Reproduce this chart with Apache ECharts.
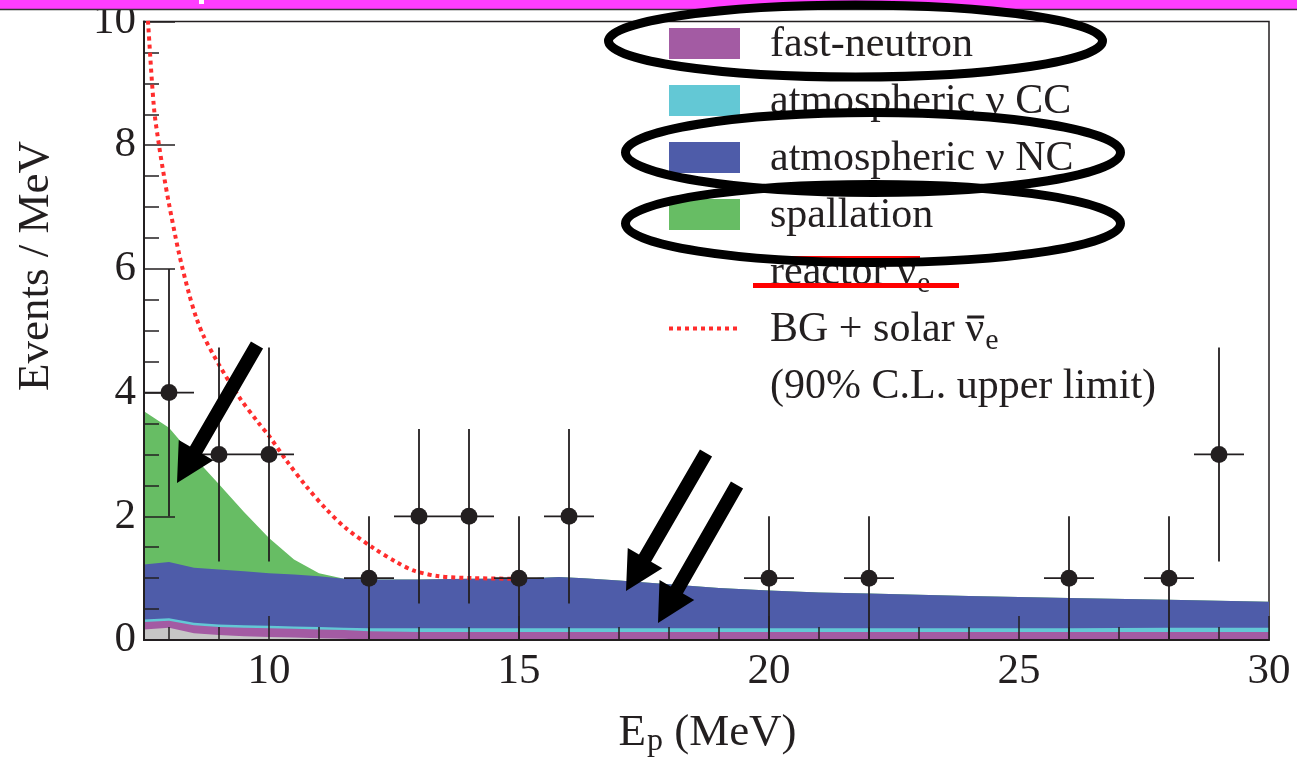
<!DOCTYPE html>
<html>
<head>
<meta charset="utf-8">
<script src="https://cdn.jsdelivr.net/npm/echarts@6/dist/echarts.min.js"></script>
<style>
  html, body { margin: 0; padding: 0; background: #fff; }
  #chart { width: 1297px; height: 761px; }
</style>
</head>
<body>
<div id="chart"></div>
<script>
// Prompt energy grid (MeV) shared by every stacked background component
const energyGrid  = [7.5, 8, 8.5, 9, 9.5, 10, 10.5, 11, 11.5, 12, 13, 14, 15, 15.8, 16.3, 17, 18, 19, 20, 21, 22, 24, 26, 28, 30];
// Component thicknesses in Events / MeV, stacked from the bottom up
const reactorBg   = [0.17, 0.20, 0.11, 0.08, 0.06, 0.05, 0.04, 0.03, 0.02, 0, 0, 0, 0, 0, 0, 0, 0, 0, 0, 0, 0, 0, 0, 0, 0];
const fastNeutron = [0.12, 0.11, 0.13, 0.13, 0.14, 0.14, 0.14, 0.14, 0.14, 0.14, 0.13, 0.13, 0.13, 0.13, 0.13, 0.13, 0.13, 0.13, 0.13, 0.13, 0.13, 0.13, 0.13, 0.13, 0.13];
const atmCC       = [0.04, 0.04, 0.04, 0.04, 0.04, 0.04, 0.04, 0.04, 0.04, 0.05, 0.06, 0.06, 0.06, 0.06, 0.06, 0.06, 0.06, 0.06, 0.06, 0.06, 0.06, 0.06, 0.06, 0.07, 0.07];
const atmNC       = [0.89, 0.91, 0.89, 0.89, 0.87, 0.85, 0.84, 0.82, 0.79, 0.79, 0.79, 0.80, 0.80, 0.83, 0.81, 0.77, 0.71, 0.65, 0.61, 0.58, 0.56, 0.52, 0.49, 0.45, 0.42];
const spallation  = [2.48, 2.17, 1.79, 1.38, 0.96, 0.57, 0.24, 0.05, 0, 0, 0, 0, 0, 0, 0, 0, 0, 0, 0, 0, 0, 0, 0, 0, 0];

// BG + solar anti-nu_e, 90% C.L. upper limit
const limitX = [7.55, 7.58, 7.7, 7.8, 7.9, 8.0, 8.2, 8.4, 8.55, 8.7, 9.0, 9.4, 9.8, 10.0, 10.35, 10.75, 11.15, 11.55, 12.1, 12.55, 12.9, 13.4, 14.1, 15.0];
const limitY = [10.4, 10.0, 8.6, 8.0, 7.5, 7.05, 6.25, 5.6, 5.2, 4.9, 4.45, 3.93, 3.5, 3.3, 2.9, 2.48, 2.11, 1.8, 1.48, 1.26, 1.12, 1.03, 1.0, 0.99];

// Observed candidates with their error ranges
const dataX  = [8, 9, 10, 12, 13, 14, 15, 16, 20, 22, 26, 28, 29];
const dataY  = [4, 3, 3, 1, 2, 2, 1, 2, 1, 1, 1, 1, 3];
const dataLo = [2, 1.27, 1.27, 0, 0.59, 0.59, 0, 0.59, 0, 0, 0, 0, 1.27];
const dataHi = [6, 4.73, 4.73, 2, 3.41, 3.41, 2, 3.41, 2, 2, 2, 2, 4.73];
const binWidth = 1.0;

// Axis ticks
const xMajorTicks = [10, 15, 20, 25, 30];
const xMinorTicks = [8, 9, 11, 12, 13, 14, 16, 17, 18, 19, 21, 22, 23, 24, 26, 27, 28, 29];

const INK = '#231f20';
const SERIF = '"Liberation Serif", "Times New Roman", serif';

// bottom-to-top order of the stacked components
const layers = [
  { name: 'reactor', values: reactorBg, color: '#c6c6c6' },
  { name: 'fast-neutron', values: fastNeutron, color: '#a35ba3' },
  { name: 'atmospheric CC', values: atmCC, color: '#63c8d5' },
  { name: 'atmospheric NC', values: atmNC, color: '#4e5ca9' },
  { name: 'spallation', values: spallation, color: '#67bd64' }
];
// running totals: each band is filled down to the axis and the lower
// totals are painted over it, which reproduces the stacked histogram
let running = energyGrid.map(() => 0);
layers.forEach(l => {
  running = running.map((v, i) => v + l.values[i]);
  l.total = running.slice();
});

const chart = echarts.init(document.getElementById('chart'), null, { renderer: 'canvas' });

// text measuring for hand-placed subscripts and overbars
const mctx = document.createElement('canvas').getContext('2d');
function textWidth(str, size) {
  mctx.font = size + 'px ' + SERIF;
  return mctx.measureText(str).width;
}

function txt(x, y, str, size, extra) {
  return Object.assign({
    type: 'text', x: x, y: y, z: 60,
    style: { text: str, font: size + 'px ' + SERIF, fill: INK, align: 'left', verticalAlign: 'middle' }
  }, extra || {});
}

function arrowPoints(tail, tip, shaftHalf, headLen, headHalf) {
  const dx = tip[0] - tail[0], dy = tip[1] - tail[1];
  const L = Math.hypot(dx, dy);
  const ux = dx / L, uy = dy / L, nx = -uy, ny = ux;
  const bx = tip[0] - ux * headLen, by = tip[1] - uy * headLen;
  return [
    [tail[0] + nx * shaftHalf, tail[1] + ny * shaftHalf],
    [bx + nx * shaftHalf, by + ny * shaftHalf],
    [bx + nx * headHalf, by + ny * headHalf],
    tip,
    [bx - nx * headHalf, by - ny * headHalf],
    [bx - nx * shaftHalf, by - ny * shaftHalf],
    [tail[0] - nx * shaftHalf, tail[1] - ny * shaftHalf]
  ];
}

// ---------- legend block ----------
const LEG_FS = 42, SUB_FS = 30;
const rowY = [43.5, 100.5, 157.5, 214.5, 271.5, 328.5, 385.5];
const swX = 669, swW = 71, swH = 31, txX = 770;
const graphics = [];

[['fast-neutron', layers[1].color], ['atmospheric \u03bd CC', layers[2].color],
 ['atmospheric \u03bd NC', layers[3].color], ['spallation', layers[4].color]].forEach((row, i) => {
  graphics.push({ type: 'rect', z: 60, shape: { x: swX, y: rowY[i] - swH / 2, width: swW, height: swH }, style: { fill: row[1] } });
  graphics.push(txt(txX, rowY[i] + 1, row[0], LEG_FS));
});

// reactor anti-nu_e and BG + solar anti-nu_e rows with overbar and subscript
function nuBarRow(prefix, y) {
  const wPre = textWidth(prefix, LEG_FS);
  const wNu = textWidth('\u03bd', LEG_FS);
  graphics.push(txt(txX, y + 1, prefix + '\u03bd', LEG_FS));
  graphics.push({ type: 'rect', z: 60, shape: { x: txX + wPre + 2, y: y - 13, width: wNu - 2, height: 3 }, style: { fill: INK } });
  graphics.push(txt(txX + wPre + wNu + 1, y + 13, 'e', SUB_FS));
}
nuBarRow('reactor ', rowY[4]);
nuBarRow('BG + solar ', rowY[5]);
graphics.push(txt(txX, rowY[6] + 1, '(90% C.L. upper limit)', LEG_FS));
graphics.push({ type: 'line', z: 60, shape: { x1: swX, y1: rowY[5], x2: swX + swW, y2: rowY[5] },
  style: { stroke: '#ff2d2d', lineWidth: 4, lineDash: [4, 4] } });

// red underline marks on the reactor row
graphics.push({ type: 'rect', z: 70, shape: { x: 753, y: 283, width: 206, height: 5 }, style: { fill: '#ff0000' } });
graphics.push({ type: 'rect', z: 70, shape: { x: 753, y: 256, width: 167, height: 5 }, style: { fill: '#ff0000' } });

// ---------- axis titles ----------
const NAME_FS = 45, NAME_SUB = 32;
const wE = textWidth('E', NAME_FS), wp = textWidth('p', NAME_SUB), wRest = textWidth(' (MeV)', NAME_FS);
const nameX0 = 707 - (wE + wp + wRest) / 2;
graphics.push(txt(nameX0, 733, 'E', NAME_FS));
graphics.push(txt(nameX0 + wE + 1, 742, 'p', NAME_SUB));
graphics.push(txt(nameX0 + wE + wp + 1, 733, ' (MeV)', NAME_FS));
graphics.push({ type: 'text', x: 36, y: 266, rotation: Math.PI / 2, z: 60,
  style: { text: 'Events / MeV', font: NAME_FS + 'px ' + SERIF, fill: INK, align: 'center', verticalAlign: 'middle' } });

// ---------- top banner ----------
graphics.push({ type: 'rect', z: 90, shape: { x: 0, y: 0, width: 1297, height: 9 }, style: { fill: '#ff3dff' } });
graphics.push({ type: 'rect', z: 91, shape: { x: 199, y: 0, width: 5, height: 4 }, style: { fill: '#ffffff' } });
graphics.push({ type: 'line', z: 91, shape: { x1: 0, y1: 9.5, x2: 1297, y2: 9.5 }, style: { stroke: '#333', lineWidth: 1.5 } });

// ---------- hand-drawn highlights ----------
[[855.5, 41, 247, 36], [873, 152.5, 247.5, 40], [873, 223.5, 247.5, 39]].forEach(e => {
  graphics.push({ type: 'ellipse', z: 100, shape: { cx: e[0], cy: e[1], rx: e[2], ry: e[3] },
    style: { fill: null, stroke: '#000', lineWidth: 9 } });
});
[[[257, 345], [177, 483]], [[706, 453], [626, 591]], [[737, 485], [658, 623]]].forEach(a => {
  graphics.push({ type: 'polygon', z: 100, shape: { points: arrowPoints(a[0], a[1], 7, 38, 20) }, style: { fill: '#000' } });
});

const axisTextStyle = { color: INK, fontFamily: SERIF, fontSize: 43 };

// top band first, lower running totals painted above it
const bandSeries = layers.slice().reverse().map(l => ({
  name: l.name, type: 'line', z: 2, silent: true,
  data: energyGrid.map((x, i) => [x, l.total[i]]),
  symbol: 'none', showSymbol: false,
  lineStyle: { width: 0, color: l.color },
  itemStyle: { color: l.color },
  areaStyle: { color: l.color, opacity: 1, origin: 'start' }
}));

chart.setOption({
  animation: false,
  backgroundColor: '#ffffff',
  grid: { left: 144, right: 28, top: 9, bottom: 121, show: true, borderColor: INK, borderWidth: 1.5, backgroundColor: 'transparent' },
  xAxis: [
    {
      type: 'value', min: 7.5, max: 30, z: 5,
      axisLine: { show: true, onZero: false, lineStyle: { color: INK, width: 2 } },
      axisTick: { show: true, inside: true, length: 24, customValues: xMajorTicks, lineStyle: { color: INK, width: 1.5 } },
      axisLabel: Object.assign({ margin: 10, customValues: xMajorTicks }, axisTextStyle),
      splitLine: { show: false }
    },
    {
      type: 'value', min: 7.5, max: 30, position: 'bottom', z: 5,
      axisLine: { show: false },
      axisTick: { show: true, inside: true, length: 13, customValues: xMinorTicks, lineStyle: { color: INK, width: 1.5 } },
      axisLabel: { show: false },
      splitLine: { show: false }
    }
  ],
  yAxis: {
    type: 'value', min: 0, max: 10, interval: 2, z: 5,
    axisLine: { show: true, onZero: false, lineStyle: { color: INK, width: 2 } },
    axisTick: { show: true, inside: true, length: 31, lineStyle: { color: INK, width: 1.5 } },
    minorTick: { show: true, splitNumber: 4, length: 15, lineStyle: { color: INK, width: 1.5 } },
    axisLabel: Object.assign({ margin: 8, padding: [0, 0, 8, 0] }, axisTextStyle),
    splitLine: { show: false },
    minorSplitLine: { show: false }
  },
  series: bandSeries.concat([
    {
      name: 'BG + solar limit', type: 'line', z: 6, silent: true,
      data: limitX.map((x, i) => [x, limitY[i]]),
      symbol: 'none', smooth: 0.3, clip: true,
      lineStyle: { color: '#ff2d2d', width: 4, type: [4, 4] }
    },
    {
      name: 'errors', type: 'custom', z: 7, silent: true, clip: true,
      data: dataX.map((x, i) => [x, dataY[i], dataLo[i], dataHi[i]]),
      encode: { x: 0, y: 1 },
      renderItem: function (params, api) {
        const x = api.value(0), y = api.value(1);
        const pLo = api.coord([x, api.value(2)]), pHi = api.coord([x, api.value(3)]);
        const pL = api.coord([x - binWidth / 2, y]), pR = api.coord([x + binWidth / 2, y]);
        const st = { stroke: INK, lineWidth: 1.8 };
        return { type: 'group', children: [
          { type: 'line', shape: { x1: pLo[0], y1: pLo[1], x2: pHi[0], y2: pHi[1] }, style: st },
          { type: 'line', shape: { x1: pL[0], y1: pL[1], x2: pR[0], y2: pR[1] }, style: st }
        ] };
      }
    },
    {
      name: 'data', type: 'scatter', z: 8, silent: true,
      data: dataX.map((x, i) => [x, dataY[i]]),
      symbol: 'circle', symbolSize: 17,
      itemStyle: { color: INK, opacity: 1 }
    }
  ]),
  graphic: { elements: graphics }
});
</script>
</body>
</html>
